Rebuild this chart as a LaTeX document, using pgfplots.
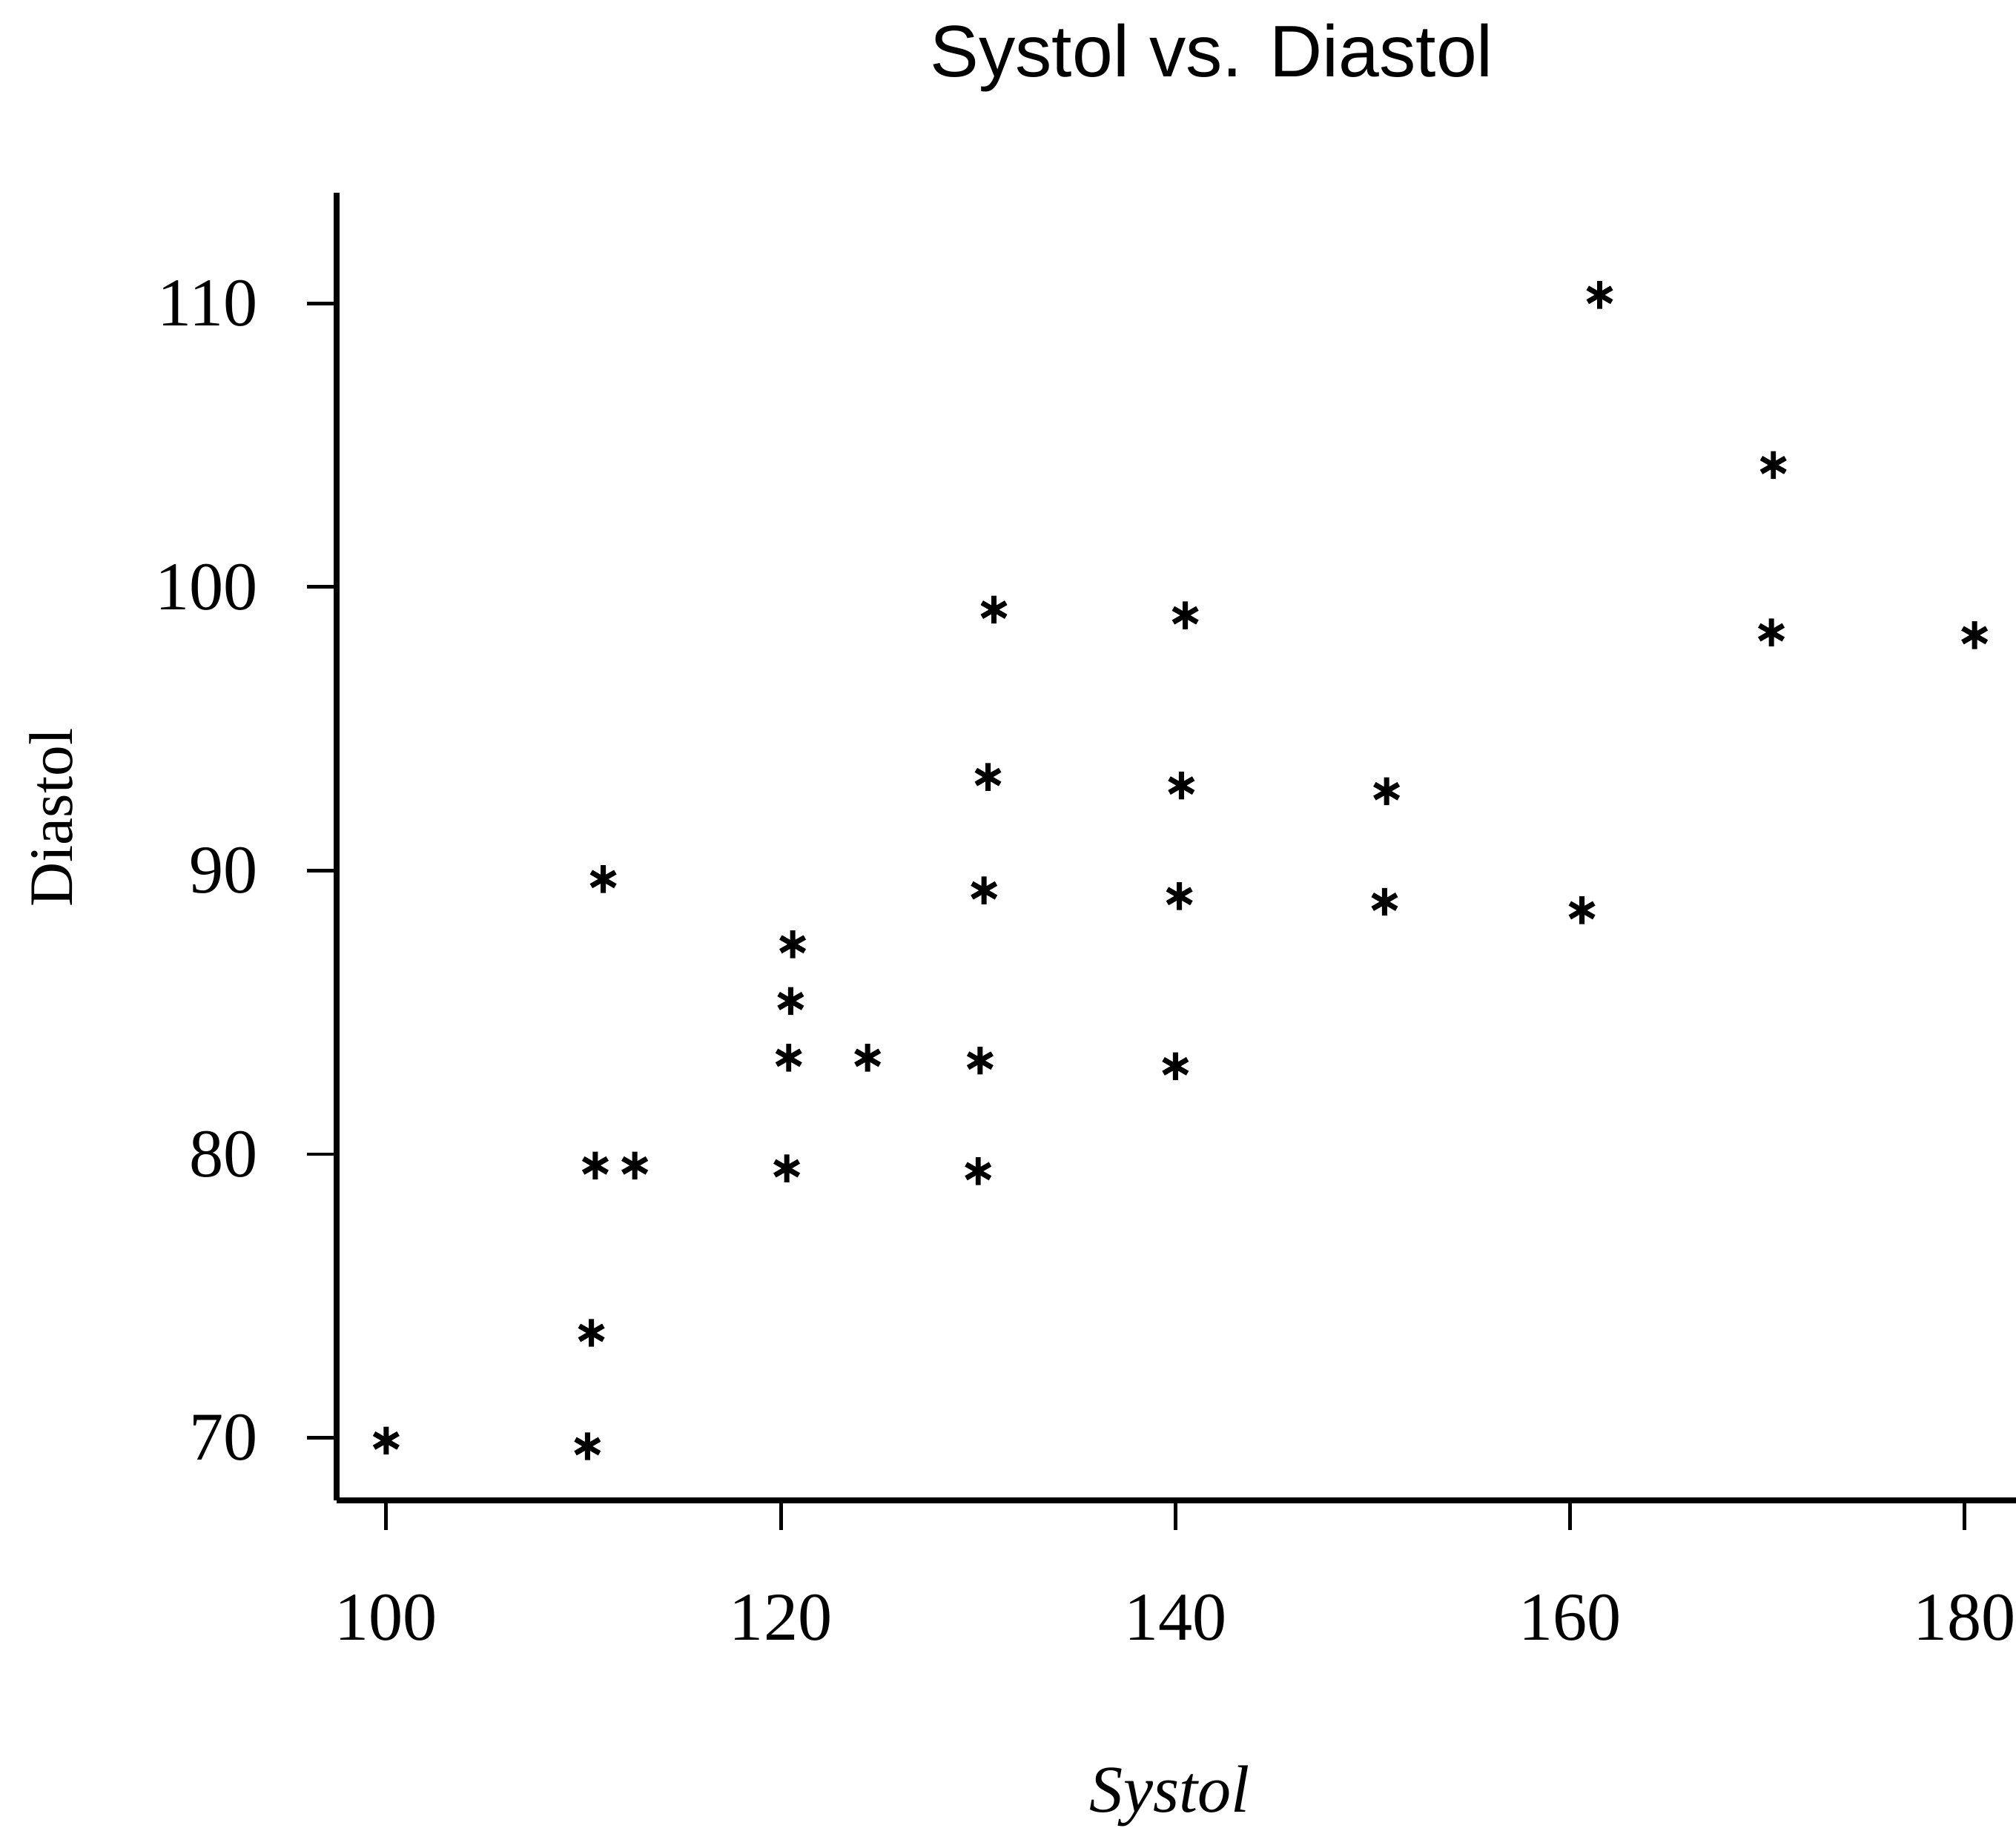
\documentclass[border=0pt]{standalone}
\usepackage{fontspec}
\setmainfont{Liberation Serif}
\newfontfamily\titlefont{Liberation Sans}
\usepackage{pgfplots}
\pgfplotsset{compat=1.18}

\begin{document}
\begin{tikzpicture}
\begin{axis}[
  name=ax,
  scale only axis,
  width=326.5pt, height=254.25pt,
  xmin=97.5, xmax=182.6,
  ymin=67.8, ymax=113.9,
  axis x line=bottom, axis y line=left,
  axis line style={-, line width=1.1pt},
  xtick={100,120,...,180},
  ytick={70,80,...,110},
  tick align=outside, major tick length=5.8pt,
  tick style={line width=0.7pt, black},
  every tick label/.append style={font=\fontsize{13.3}{16}\selectfont},
  /pgf/number format/assume math mode=true,
  xticklabel style={yshift=-9pt},
  yticklabel style={xshift=-6pt},
  title={\titlefont Systol vs. Diastol},
  title style={at={(rel axis cs:0.521,1.065)}, anchor=base,
               font=\fontsize{14.2}{17}\selectfont},
  xlabel={\textit{Systol}},
  xlabel style={at={(rel axis cs:0.496,-0.2385)}, anchor=base,
                font=\fontsize{13}{16}\selectfont},
  ylabel={Diastol},
  ylabel style={at={(rel axis cs:-0.170,0.522)}, anchor=center,
                font=\fontsize{12}{15}\selectfont},
  clip=false,
]
% systolic vs diastolic readings
\addplot[only marks, mark=asterisk, mark size=2.7pt, line width=1pt]
  coordinates {
    (100,69.9) (110.2,69.7) (110.4,73.7) (110.6,79.6) (112.6,79.6)
    (111.0,89.7) (120.3,79.5) (120.4,83.4) (120.5,85.4) (120.6,87.4)
    (124.4,83.4) (130.0,79.4) (130.1,83.3) (130.3,89.3) (130.5,93.3)
    (130.8,99.2) (140.0,83.1) (140.2,89.1) (140.3,93.0) (140.5,99.0)
    (150.6,88.9) (150.7,92.8) (160.6,88.6) (161.5,110.3) (170.3,104.3)
    (170.2,98.4) (180.5,98.3)
  };
\coordinate (bl) at (rel axis cs:-0.2006,-0.2527);
\coordinate (tr) at (rel axis cs:1,1.1475);
\end{axis}
\pgfresetboundingbox
\path (bl) rectangle (tr);
\end{tikzpicture}
\end{document}
